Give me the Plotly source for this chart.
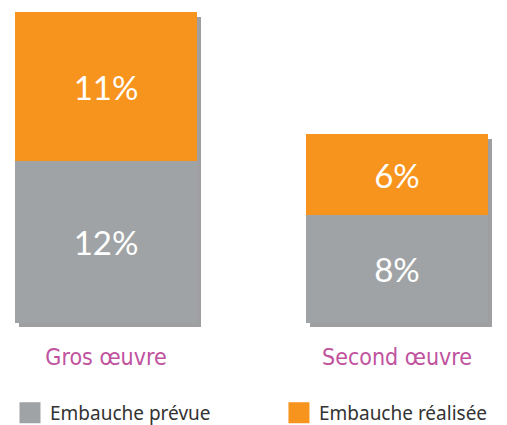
import plotly.graph_objects as go

categories = ['Gros œuvre', 'Second œuvre']
embauche_prevue = [12, 8]
embauche_realisee = [11, 6]
series_names = ['Embauche prévue', 'Embauche réalisée']

x_pos = list(range(len(categories)))
totals = [p + r for p, r in zip(embauche_prevue, embauche_realisee)]

GRAY = '#A0A3A6'
ORANGE = '#F7941D'
BAR_W = 0.625

fig = go.Figure()

# soft drop shadow behind each stack
fig.add_trace(go.Bar(
    x=x_pos,
    y=[t - 0.05 for t in totals],
    base=-0.3,
    width=BAR_W,
    offset=-BAR_W / 2 + 0.014,
    marker=dict(color='rgba(80, 80, 85, 0.55)', line=dict(width=0)),
    showlegend=False,
    hoverinfo='skip'
))

fig.add_trace(go.Bar(
    x=x_pos,
    y=embauche_prevue,
    width=BAR_W,
    name=series_names[0],
    marker=dict(color=GRAY, line=dict(width=0)),
    text=[f'{v}%' for v in embauche_prevue],
    textposition='inside',
    insidetextanchor='middle',
    textfont=dict(family='Lato', size=33, color='white'),
    showlegend=False
))

fig.add_trace(go.Bar(
    x=x_pos,
    y=embauche_realisee,
    base=embauche_prevue,
    width=BAR_W,
    name=series_names[1],
    marker=dict(color=ORANGE, line=dict(width=0)),
    text=[f'{v}%' for v in embauche_realisee],
    textposition='inside',
    insidetextanchor='middle',
    textfont=dict(family='Lato', size=33, color='white'),
    showlegend=False
))

# legend entries with bigger square swatches, one legend each
for name, color, lg in zip(series_names, [GRAY, ORANGE], ['legend', 'legend2']):
    fig.add_trace(go.Scatter(
        x=[None], y=[None],
        mode='markers',
        name=name,
        marker=dict(symbol='square', size=22, color=color,
                    line=dict(width=5, color=color)),
        showlegend=True,
        legend=lg
    ))

legend_style = dict(
    orientation='h',
    xanchor='left',
    y=-0.26,
    yanchor='middle',
    itemsizing='trace',
    font=dict(family='Noto Sans', size=19, color='#333333'),
    bgcolor='rgba(0,0,0,0)'
)

fig.update_layout(
    width=499,
    height=417,
    barmode='overlay',
    bargap=0,
    margin=dict(t=3, b=95, l=0, r=0, autoexpand=False),
    paper_bgcolor='white',
    plot_bgcolor='white',
    xaxis=dict(
        range=[-0.3368, 1.378],
        tickvals=x_pos,
        ticktext=categories,
        tickfont=dict(family='DejaVu Sans Condensed, Liberation Sans Narrow, sans-serif',
                      size=23, color='#C0529E'),
        ticklabelstandoff=11,
        showgrid=False,
        zeroline=False,
        showline=False,
        ticks=''
    ),
    yaxis=dict(
        range=[-0.5, 23.1],
        visible=False,
        showgrid=False,
        zeroline=False
    ),
    legend=dict(x=0.004, **legend_style),
    legend2=dict(x=0.543, **legend_style),
    showlegend=True
)

fig.write_html("out.html")
